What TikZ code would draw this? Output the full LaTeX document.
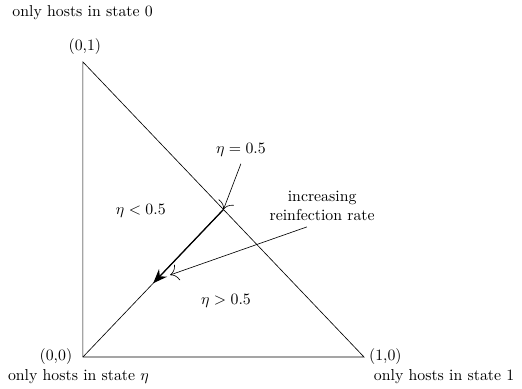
\documentclass[tikz,border=0pt]{standalone}
\usetikzlibrary{positioning, arrows.meta}

\begin{document}
\begin{tikzpicture}[x=6.25cm, y=6.56cm,
    pointer/.style={-{To[scale=2]}},
    flowarrow/.style={thick, -{Stealth[length=9pt, width=7pt]}}]
  \useasboundingbox (-0.295,-0.108) rectangle (1.562,1.210);

  % sommets du simplexe
  \coordinate (o) at (0,0);
  \coordinate (e1) at (1,0);
  \coordinate (e0) at (0,1);
  \coordinate (mid) at (0.5,0.5);
  \coordinate (tip) at (0.25,0.25);

  \draw (o) -- (e1) -- (e0) -- cycle;
  \draw (o) -- (mid);
  \draw[flowarrow] (mid) -- (tip);

  % coins
  \node (lo) at (-0.096,0) {(0,0)};
  \node (l1) at (1.076,0) {(1,0)};
  \node (l0) at (0.007,1.051) {(0,1)};
  \node (state0) at (-0.001,1.166) {only hosts in state 0};
  \node (stateeta) at (-0.016,-0.068) {only hosts in state $\eta$};
  \node (state1) at (1.285,-0.068) {only hosts in state 1};

  % regions
  \node (below) at (0.206,0.495) {$\eta < 0.5$};
  \node (above) at (0.509,0.19) {$\eta > 0.5$};
  \node (equal) at (0.562,0.702) {$\eta = 0.5$};
  \node[align=center] (rate) at (0.851,0.512) {increasing\\reinfection rate};

  \coordinate (eqfoot) at (0.562,0.655);
  \coordinate (ratefoot) at (0.797,0.441);
  \coordinate (ratetip) at (0.310,0.278);
  \draw[pointer] (eqfoot) -- (mid);
  \draw[pointer] (ratefoot) -- (ratetip);
\end{tikzpicture}
\end{document}
